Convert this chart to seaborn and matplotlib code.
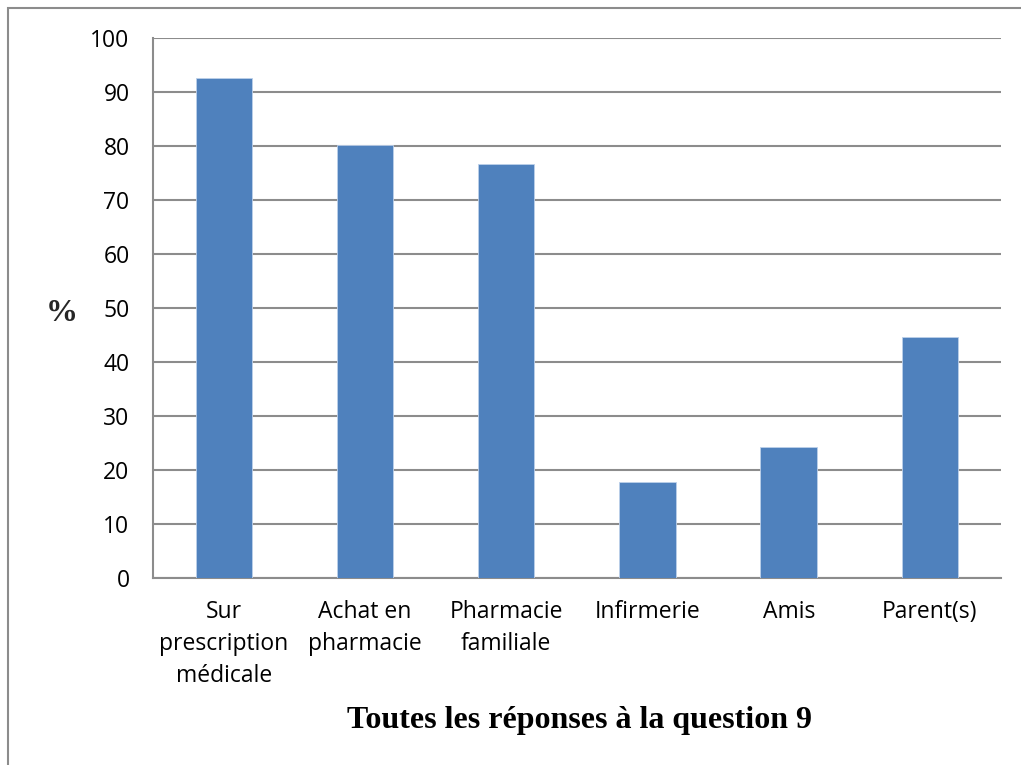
import matplotlib
matplotlib.use("Agg")
import matplotlib.pyplot as plt
import matplotlib.patches as mpatches
import pandas as pd
import seaborn as sns

# data
categories = ["Sur\nprescription\nmédicale", "Achat en\npharmacie", "Pharmacie\nfamiliale",
              "Infirmerie", "Amis", "Parent(s)"]
values = [92.6, 80.1, 76.6, 17.8, 24.3, 44.6]
y_ticks = [0, 10, 20, 30, 40, 50, 60, 70, 80, 90, 100]

df = pd.DataFrame({"source": categories, "pct": values})

sns.set_style("white")
plt.rcParams["font.family"] = ["Open Sans", "DejaVu Sans"]
plt.rcParams["text.color"] = "black"
plt.rcParams["xtick.color"] = "black"
plt.rcParams["ytick.color"] = "black"

fig = plt.figure(figsize=(10.21, 7.65), dpi=100)
ax = fig.add_axes([0.15, 0.2444, 0.83, 0.7059])

sns.barplot(data=df, x="source", y="pct", color="#4F81BD", saturation=1,
            width=0.4, linewidth=0.6, edgecolor="#bcd0ea", ax=ax, zorder=3)

grid_c = "#8c8c8c"
ax.set_ylim(0, 100)
ax.set_xlim(-0.5, len(categories) - 0.5)
ax.set_yticks(y_ticks)
ax.set_yticklabels([str(t) for t in y_ticks], fontsize=16.5)
ax.yaxis.grid(True, color=grid_c, linewidth=1.5, zorder=0)
ax.set_axisbelow(True)

# category boundaries as x ticks, labels centred on bars
ax.set_xticks([i - 0.5 for i in range(len(categories) + 1)], minor=True)
ax.tick_params(axis="x", which="minor", length=9, width=1.5, color=grid_c, direction="out")
ax.tick_params(axis="x", which="major", length=0, pad=16, labelsize=16.5)
ax.tick_params(axis="y", length=7, width=1.5, color=grid_c, direction="out", pad=10)
for lbl in ax.get_xticklabels():
    lbl.set_linespacing(1.45)

for side in ["top", "right"]:
    ax.spines[side].set_visible(False)
for side in ["left", "bottom"]:
    ax.spines[side].set_color(grid_c)
    ax.spines[side].set_linewidth(1.5)

ax.set_xlabel("")
ax.set_ylabel("%", rotation=0, fontsize=23, fontweight="bold",
              family="Liberation Serif", va="center")
ax.yaxis.set_label_coords(-0.108, 0.49)

fig.text(0.568, 0.058, "Toutes les réponses à la question 9", ha="center", va="center",
         fontsize=23, fontweight="bold", family="Liberation Serif")

# outer chart frame (clipped at right and bottom)
frame = mpatches.Rectangle((8 / 1021, -0.1), 1.2, 1 - 8 / 765 + 0.1, transform=fig.transFigure,
                           fill=False, edgecolor="#8c8c8c", linewidth=1.5)
fig.patches.append(frame)

fig.savefig("out.png", dpi=100)
